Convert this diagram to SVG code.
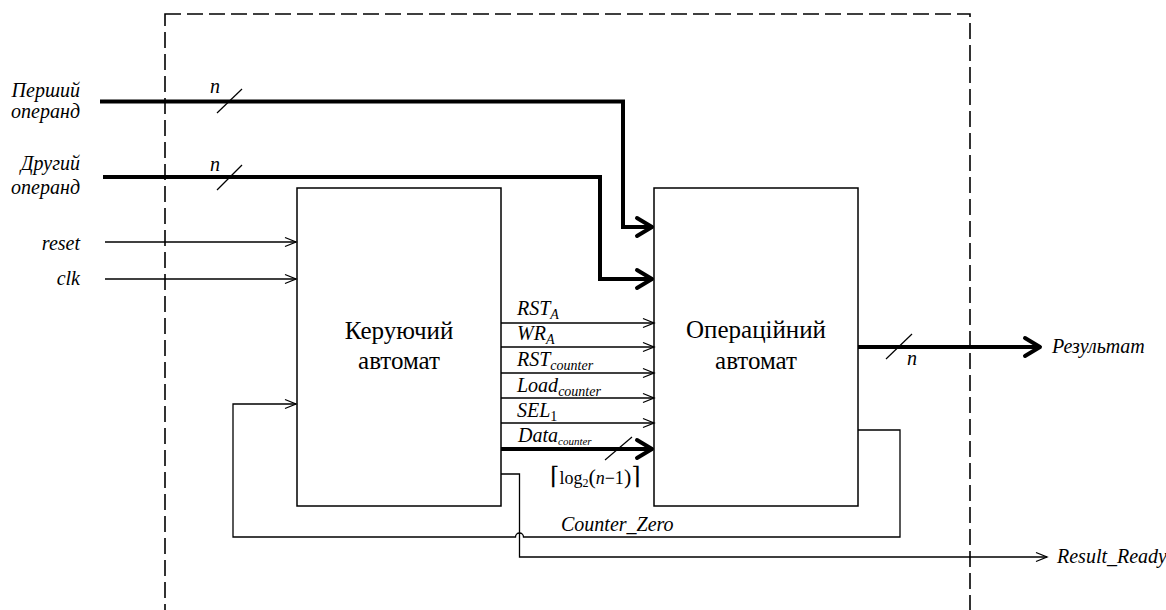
<svg xmlns="http://www.w3.org/2000/svg" width="1166" height="610" viewBox="0 0 1166 610">
<style>
.blk{fill:#fff;stroke:#000;stroke-width:1.5}
.thin{fill:none;stroke:#000;stroke-width:1.3}
.thick{fill:none;stroke:#000;stroke-width:4}
.lbl{font-family:"Liberation Serif","DejaVu Serif",serif;font-style:italic;font-size:20px;fill:#000}
.sig{font-family:"Liberation Serif","DejaVu Serif",serif;font-style:italic;font-size:20px;fill:#000}
.name{font-family:"Liberation Serif","DejaVu Serif",serif;font-size:25px;fill:#000;text-anchor:middle}
.math{font-family:"Liberation Serif","DejaVu Serif",serif;font-size:18px;fill:#000}
</style>
<defs>
<marker id="ah" markerUnits="userSpaceOnUse" markerWidth="14" markerHeight="12" refX="12" refY="6" orient="auto">
<path d="M1,1.5 L12,6 L1,10.5" fill="none" stroke="#000" stroke-width="1.3"/>
</marker>
<marker id="ahT" markerUnits="userSpaceOnUse" markerWidth="22" markerHeight="24" refX="18" refY="12" orient="auto">
<path d="M3,3 L18,12 L3,21" fill="none" stroke="#000" stroke-width="4" stroke-linejoin="round" stroke-linecap="round"/>
</marker>
</defs>

<rect x="165" y="14" width="805" height="620" fill="none" stroke="#000" stroke-width="1.6" stroke-dasharray="16,6"/>

<g id="control">
<rect class="blk" x="297" y="188" width="204" height="318"/>
<text class="name" x="399" y="339">Керуючий</text>
<text class="name" x="399" y="369">автомат</text>
</g>

<g id="datapath">
<rect class="blk" x="654" y="188" width="204" height="318"/>
<text class="name" x="756" y="338">Операційний</text>
<text class="name" x="756" y="369">автомат</text>
</g>

<g id="connectors">
<path class="thick" d="M100,101.5 H623 V227 H652" marker-end="url(#ahT)"/>
<path class="thick" d="M103,177 H600 V279 H652" marker-end="url(#ahT)"/>
<path class="thin" d="M105,242 H296" marker-end="url(#ah)"/>
<path class="thin" d="M105,279 H296" marker-end="url(#ah)"/>
<path class="thin" d="M501,323 H654" marker-end="url(#ah)"/>
<path class="thin" d="M501,347 H654" marker-end="url(#ah)"/>
<path class="thin" d="M501,373 H654" marker-end="url(#ah)"/>
<path class="thin" d="M501,398 H654" marker-end="url(#ah)"/>
<path class="thin" d="M501,423 H654" marker-end="url(#ah)"/>
<path class="thick" d="M501,449 H652" marker-end="url(#ahT)"/>
<path class="thick" d="M858,347 H1040" marker-end="url(#ahT)"/>
<path class="thin" d="M858,430 H900 V537 H523.5 A4,4 0 0 0 515.5,537 H233 V404 H296" marker-end="url(#ah)"/>
<path class="thin" d="M501,474 H519.5 V557 H1047" marker-end="url(#ah)"/>
<g stroke="#000" stroke-width="1.2">
<line x1="217" y1="113" x2="242" y2="89"/>
<line x1="217" y1="190" x2="242" y2="165"/>
<line x1="605" y1="460" x2="632" y2="437"/>
<line x1="886" y1="359" x2="912" y2="334"/>
</g>
</g>

<g id="labels">
<text class="lbl" x="80" y="97" text-anchor="end">Перший</text>
<text class="lbl" x="80" y="118" text-anchor="end">операнд</text>
<text class="lbl" x="80" y="170" text-anchor="end">Другий</text>
<text class="lbl" x="80" y="194" text-anchor="end">операнд</text>
<text class="lbl" x="80" y="250" text-anchor="end">reset</text>
<text class="lbl" x="80" y="285" text-anchor="end">clk</text>
<text class="lbl" x="210" y="93" font-size="19">n</text>
<text class="lbl" x="210" y="171" font-size="19">n</text>
<text class="lbl" x="907" y="365" font-size="19">n</text>
<text class="lbl" x="1052" y="353" font-size="19">Результат</text>
<text class="lbl" x="1057" y="563" font-size="18.5">Result_Ready</text>
<text class="lbl" x="561" y="531" font-size="22">Counter_Zero</text>

<text class="sig" x="517" y="315">RST<tspan font-size="14" dy="4">A</tspan></text>
<text class="sig" x="517" y="340">WR<tspan font-size="14" dy="4">A</tspan></text>
<text class="sig" x="517" y="366">RST<tspan font-size="14" dy="4">counter</tspan></text>
<text class="sig" x="517" y="392">Load<tspan font-size="14" dy="4">counter</tspan></text>
<text class="sig" x="517" y="417">SEL<tspan font-size="14" font-style="normal" dy="4">1</tspan></text>
<text class="sig" x="518" y="442" font-size="16">Data<tspan font-size="11" dy="3">counter</tspan></text>
<text class="math" x="550" y="484"><tspan font-size="24">⌈</tspan>log<tspan font-size="12" dy="3">2</tspan><tspan dy="-3" font-size="22">(</tspan><tspan font-style="italic">n</tspan>−1<tspan font-size="22">)</tspan><tspan font-size="24">⌉</tspan></text>
</g>
</svg>
